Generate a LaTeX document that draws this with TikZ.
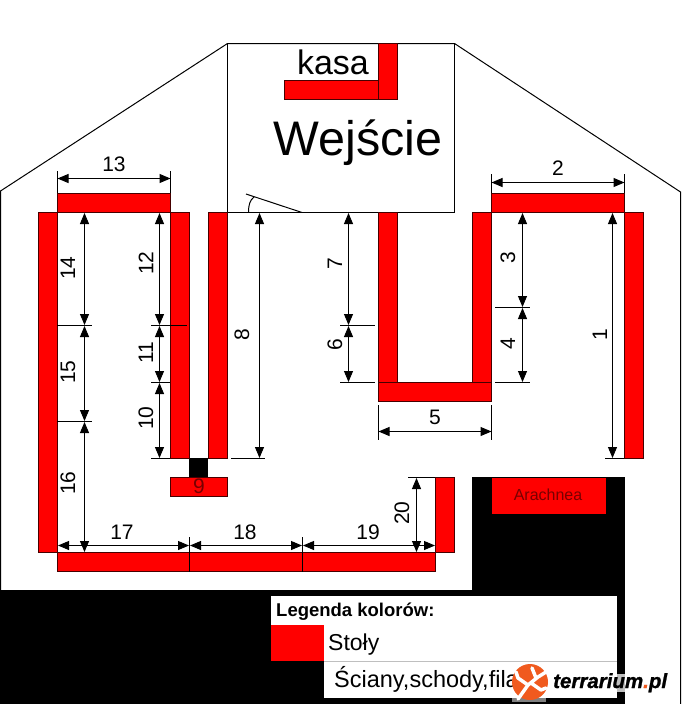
\documentclass[tikz,border=0pt]{standalone}
\usepackage{fontspec}
\setmainfont{Liberation Sans}
\newfontfamily\logofont[BoldItalicFeatures={FakeBold=1.2}]{Liberation Sans}
\usetikzlibrary{arrows.meta}
\definecolor{tableedge}{RGB}{70,0,0}
\definecolor{tabletext}{RGB}{120,0,0}
\definecolor{logoorange}{RGB}{240,90,30}
\tikzset{
  table/.style={fill=red,draw=tableedge,line width=1pt},
  wall/.style={fill=black,draw=none},
  thin line/.style={draw=black,line width=1pt},
  measure/.style={draw=black,line width=1pt,{Triangle[length=11pt,width=9pt]}-{Triangle[length=11pt,width=9pt]}},
  num/.style={font=\fontsize{21}{21}\selectfont,inner sep=0pt,text=black},
  vnum/.style={num,rotate=90},
}
\begin{document}
\begin{tikzpicture}[x=1pt,y=-1pt]
\useasboundingbox (0,0) rectangle (681,704);
% outline
\draw[thin line] (0.5,704) -- (0.5,191) -- (227.5,43.5) -- (454.5,43.5) -- (680.5,192) -- (680.5,704);
\draw[thin line] (227.5,43.5) rectangle (454.5,212.5);
% black areas
\fill[wall] (0,590) rectangle (625,704);
\fill[wall] (472,477) rectangle (625,590);
\fill[wall] (189,458) rectangle (208,477);
% tables
\draw[table] (378.5,43.5) rectangle (397.5,99.5);
\draw[table] (284.5,80.5) rectangle (378.5,99.5);
\draw[table] (624.5,212.5) rectangle (643.5,458.5);
\draw[table] (491.5,193.5) rectangle (624.5,212.5);
\draw[table] (378.5,212.5) rectangle (397.5,382.5);
\draw[table] (472.5,212.5) rectangle (491.5,382.5);
\draw[table] (378.5,382.5) rectangle (491.5,401.5);
\draw[table] (38.5,212.5) rectangle (57.5,552.5);
\draw[table] (57.5,193.5) rectangle (170.5,212.5);
\draw[table] (170.5,212.5) rectangle (189.5,458.5);
\draw[table] (208.5,212.5) rectangle (227.5,458.5);
\draw[table] (170.5,477.5) rectangle (227.5,496.5);
\draw[table] (57.5,552.5) rectangle (435.5,571.5);
\draw[table] (435.5,477.5) rectangle (454.5,552.5);
\fill[red] (491.5,477.5) rectangle (605.5,514);
% door
\draw[thin line] (246,194) -- (302,212.5);
\draw[thin line] (248.5,212) .. controls (248.5,205) and (250,200) .. (254,197);
% entrance labels
\node[font=\fontsize{34}{34}\selectfont,anchor=base,inner sep=0pt] (kasa) at (333,74) {kasa};
\node[font=\fontsize{48.5}{48}\selectfont,anchor=base,inner sep=0pt] (wejscie) at (358,155) {Wejście};
% extension lines and ticks
\draw[thin line]
 (57.5,171)--(57.5,193) (170.5,171)--(170.5,193)
 (491.5,174)--(491.5,193) (624.5,174)--(624.5,193)
 (378.5,405)--(378.5,440) (491.5,405)--(491.5,440)
 (57,325.5)--(92,325.5) (57,421.5)--(92,421.5)
 (151,325.5)--(187,325.5) (151,382.5)--(170,382.5) (151,458.5)--(170,458.5)
 (231,458.5)--(265,458.5)
 (340,325.5)--(375,325.5) (340,382.5)--(375,382.5)
 (495,307.5)--(530,307.5) (495,382.5)--(530,382.5)
 (605,458.5)--(624,458.5)
 (408,477.5)--(435,477.5)
 (189.5,537)--(189.5,572) (302.5,537)--(302.5,572);
% measures
\draw[measure] (57.5,178.5)--(170.5,178.5);
\draw[measure] (491.5,182.5)--(624.5,182.5);
\draw[measure] (378.5,431.5)--(491.5,431.5);
\draw[measure] (84.5,213)--(84.5,325);
\draw[measure] (84.5,326)--(84.5,421);
\draw[measure] (84.5,422)--(84.5,552);
\draw[measure] (159.5,213)--(159.5,325);
\draw[measure] (159.5,326)--(159.5,382);
\draw[measure] (159.5,383)--(159.5,458);
\draw[measure] (259.5,213)--(259.5,458);
\draw[measure] (348.5,213)--(348.5,325);
\draw[measure] (348.5,326)--(348.5,382);
\draw[measure] (522.5,213)--(522.5,307);
\draw[measure] (522.5,308)--(522.5,382);
\draw[measure] (612.5,213)--(612.5,458);
\draw[measure] (416.5,478)--(416.5,552);
\draw[measure] (58,545.5)--(189,545.5);
\draw[measure] (190,545.5)--(302,545.5);
\draw[measure] (303,545.5)--(435,545.5);
% numbers
\node[num] (n13) at (114,164) {13};
\node[num] (n2) at (558,168) {2};
\node[num] (n5) at (435,417) {5};
\node[num] (n17) at (122,532) {17};
\node[num] (n18) at (245,532) {18};
\node[num] (n19) at (368,532) {19};
\node[vnum] (n14) at (68,268) {14};
\node[vnum] (n15) at (68,372) {15};
\node[vnum] (n16) at (68,483) {16};
\node[vnum] (n12) at (146,263) {12};
\node[vnum] (n11) at (146,353) {11};
\node[vnum] (n10) at (146,418) {10};
\node[vnum] (n8) at (242,335) {8};
\node[vnum] (n7) at (335,264) {7};
\node[vnum] (n6) at (335,345) {6};
\node[vnum] (n3) at (508,258) {3};
\node[vnum] (n4) at (508,344) {4};
\node[vnum] (n1) at (600,335) {1};
\node[vnum] (n20) at (402,513) {20};
\node[num,text=tabletext] (n9) at (199,486) {9};
\node[font=\fontsize{16}{16}\selectfont,inner sep=0pt,text=tabletext] (arachnea) at (548,495) {Arachnea};
% legend
\fill[white] (271,596) rectangle (617,698);
\fill[red] (271,625) rectangle (324,661);
\fill[wall] (271,661) rectangle (324,698);
\draw[line width=1pt,draw=black!25] (324,661.5) -- (617,661.5);
\node[font=\bfseries\fontsize{18.5}{20}\selectfont,anchor=base west,inner sep=0pt] (legend) at (276,616) {Legenda kolorów:};
\node[font=\fontsize{23}{23}\selectfont,anchor=base west,inner sep=0pt] (stoly) at (328,650) {Stoły};
\node[font=\fontsize{23.5}{24}\selectfont,anchor=base west,inner sep=0pt] (sciany) at (334,687) {Ściany,schody,fila};
% logo
\fill[white,opacity=.75] (617,674) rectangle (625,692);
\fill[white,opacity=.5] (512,698) rectangle (546,702);
\fill[logoorange] (530,682) circle (18);
\draw[white,line width=3.5pt,line cap=round,line join=round]
 (518,699) -- (528,685) -- (538,677) -- (546,672)
 (528,685) -- (518,678) -- (516,672)
 (536,678) -- (532,668)
 (531,683) -- (541,690) -- (546,688);
\node[font=\logofont\bfseries\itshape\fontsize{20.5}{21}\selectfont,anchor=base west,inner sep=0pt] (logotext) at (553,688) {terrarium\textcolor{logoorange}{.}pl};
\end{tikzpicture}
\end{document}
